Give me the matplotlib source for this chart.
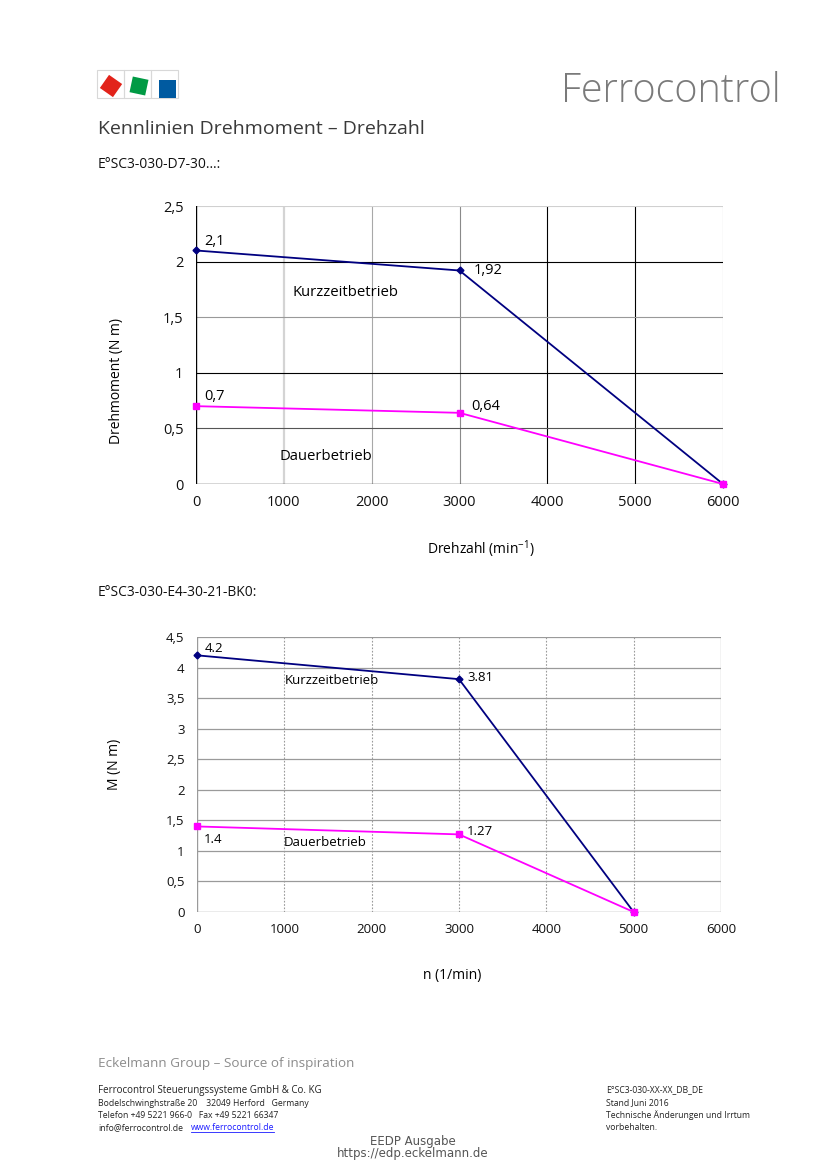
import matplotlib
matplotlib.use("Agg")
import matplotlib.pyplot as plt
from matplotlib.patches import Rectangle, Polygon
import numpy as np

plt.rcParams['font.family'] = ['Open Sans', 'DejaVu Sans']

# ---------------- data ----------------
speed1 = [0, 3000, 6000]
short1 = [2.1, 1.92, 0]
cont1 = [0.7, 0.64, 0]
short1_labels = ["2,1", "1,92"]
cont1_labels = ["0,7", "0,64"]

speed2 = [0, 3000, 5000]
short2 = [4.2, 3.81, 0]
cont2 = [1.4, 1.27, 0]
short2_labels = ["4.2", "3.81"]
cont2_labels = ["1.4", "1.27"]

xticks = [0, 1000, 2000, 3000, 4000, 5000, 6000]
xtick_labels = ["0", "1000", "2000", "3000", "4000", "5000", "6000"]
yticks1 = [0, 0.5, 1, 1.5, 2, 2.5]
ytick_labels1 = ["0", "0,5", "1", "1,5", "2", "2,5"]
yticks2 = [0, 0.5, 1, 1.5, 2, 2.5, 3, 3.5, 4, 4.5]
ytick_labels2 = ["0", "0,5", "1", "1,5", "2", "2,5", "3", "3,5", "4", "4,5"]

NAVY = "#000080"
MAG = "#FF00FF"
W, H = 827, 1169

fig = plt.figure(figsize=(8.27, 11.69), dpi=100)

# page overlay axes in pixel coordinates
page = fig.add_axes([0, 0, 1, 1])
page.set_xlim(0, W)
page.set_ylim(H, 0)
page.axis("off")

# logo
for x0 in (97, 124, 151):
    page.add_patch(Rectangle((x0, 70), 27, 28, fill=False, ec="#d8d8d8", lw=0.8))
def rot_square(cx, cy, s, ang, color):
    a = np.deg2rad(ang)
    pts = np.array([[-s/2, -s/2], [s/2, -s/2], [s/2, s/2], [-s/2, s/2]])
    R = np.array([[np.cos(a), -np.sin(a)], [np.sin(a), np.cos(a)]])
    p = pts @ R.T + [cx, cy]
    page.add_patch(Polygon(p, closed=True, color=color, lw=0))
rot_square(111, 86, 16, 35, "#e2231a")
rot_square(139, 86, 16, 12, "#009a44")
page.add_patch(Rectangle((159, 80), 17, 18, color="#005aa0", lw=0))

page.text(781, 91, "Ferrocontrol", ha="right", va="center", fontsize=28.5,
          color="#7a7a7a", fontweight="light")
page.text(98, 129, "Kennlinien Drehmoment – Drehzahl", ha="left", va="center",
          fontsize=14, color="#3a3a3a")
page.text(98, 165, "E°SC3-030-D7-30…:", ha="left", va="center", fontsize=10, color="#111111")
page.text(98, 592, "E°SC3-030-E4-30-21-BK0:", ha="left", va="center", fontsize=9.9, color="#111111")

# footer
page.text(98, 1064, "Eckelmann Group – Source of inspiration", ha="left", va="center",
          fontsize=9.7, color="#8c8c8c")
foot_left = ["Ferrocontrol Steuerungssysteme GmbH & Co. KG",
             "Bodelschwinghstraße 20    32049 Herford   Germany",
             "Telefon +49 5221 966-0   Fax +49 5221 66347",
             "info@ferrocontrol.de"]
foot_right = ["E°SC3-030-XX-XX_DB_DE", "Stand Juni 2016",
              "Technische Änderungen und Irrtum", "vorbehalten."]
ys = [1090, 1103, 1115, 1128]
for i, (l, r) in enumerate(zip(foot_left, foot_right)):
    page.text(98, ys[i], l, ha="left", va="center", fontsize=7 if i == 0 else 6.2, color="#222222")
    page.text(606, ys[i], r, ha="left", va="center", fontsize=6.2, color="#222222")
page.text(191, 1128, "www.ferrocontrol.de", ha="left", va="center", fontsize=6.2,
          color="#1a1aff")
page.plot([191, 274], [1132, 1132], color="#1a1aff", lw=0.6)
page.text(413, 1141, "EEDP Ausgabe", ha="center", va="center", fontsize=8.5,
          color="#555555", family="DejaVu Sans")
page.text(413, 1153, "https://edp.eckelmann.de", ha="center", va="center", fontsize=8.5,
          color="#555555", family="DejaVu Sans")

# ---------------- chart 1 ----------------
ax1 = fig.add_axes([196/W, 1-484/H, 527/W, 278/H])
ax1.set_xlim(0, 6000)
ax1.set_ylim(0, 2.5)
vcols = {1000: ("#d4d4d4", 1.6), 2000: ("#a8a8a8", 0.8), 3000: ("#8a8a8a", 0.8),
         4000: ("#000000", 0.8), 5000: ("#000000", 0.8), 6000: ("#b0b0b0", 0.8)}
for xv, (c, lw) in vcols.items():
    ax1.axvline(xv, color=c, lw=lw, zorder=1)
hcols = {0.5: "#555555", 1: "#000000", 1.5: "#999999", 2: "#000000", 2.5: "#d0d0d0"}
for yv, c in hcols.items():
    ax1.axhline(yv, color=c, lw=0.8, zorder=1)
for s in ax1.spines.values():
    s.set_visible(False)
ax1.axvline(0, color="#000000", lw=1.0, zorder=2)
ax1.axhline(0, color="#333333", lw=1.0, zorder=2)
ax1.plot(speed1, short1, color=NAVY, lw=1.3, marker="D", ms=3.5, zorder=5, clip_on=False)
ax1.plot(speed1, cont1, color=MAG, lw=1.3, marker="s", ms=5, zorder=5, clip_on=False)
ax1.set_xticks(xticks)
ax1.set_xticklabels(xtick_labels)
ax1.set_yticks(yticks1)
ax1.set_yticklabels(ytick_labels1)
ax1.tick_params(length=0, labelsize=10.5, pad=9, colors="#111111")
ax1.tick_params(axis="x", pad=8)
offs1_s = [(8, 9), (14, 0)]
offs1_c = [(8, 10), (12, 6)]
for i in range(2):
    ax1.annotate(short1_labels[i], (speed1[i], short1[i]), xytext=offs1_s[i],
                 textcoords="offset pixels", ha="left", va="center", fontsize=10.5)
    ax1.annotate(cont1_labels[i], (speed1[i], cont1[i]), xytext=offs1_c[i],
                 textcoords="offset pixels", ha="left", va="center", fontsize=10.5)
ax1.text(1104, 1.72, "Kurzzeitbetrieb", ha="left", va="center", fontsize=10.7)
ax1.text(945, 0.25, "Dauerbetrieb", ha="left", va="center", fontsize=10.7)
ax1.set_ylabel("Drehmoment (N m)", fontsize=10)
ax1.yaxis.set_label_coords(-0.137, 0.37)
ax1.set_xlabel("Drehzahl (min$^{\\mathregular{-1}}$)", fontsize=10)
ax1.xaxis.set_label_coords(0.541, -0.195)

# ---------------- chart 2 ----------------
ax2 = fig.add_axes([197/W, 1-912/H, 524/W, 275/H])
ax2.set_xlim(0, 6000)
ax2.set_ylim(0, 4.5)
for xv in xticks[1:-1]:
    ax2.axvline(xv, color="#9a9a9a", lw=0.8, ls=(0, (1.5, 1.5)), zorder=1)
ax2.axvline(6000, color="#a0a0a0", lw=0.9, zorder=1)
for yv in yticks2[1:]:
    ax2.axhline(yv, color="#9a9a9a", lw=0.9, zorder=1)
for s in ax2.spines.values():
    s.set_visible(False)
ax2.axvline(0, color="#9a9a9a", lw=1.0, zorder=2)
ax2.axhline(0, color="#9a9a9a", lw=1.0, zorder=2)
ax2.plot(speed2, short2, color=NAVY, lw=1.3, marker="D", ms=3.5, zorder=5, clip_on=False)
ax2.plot(speed2, cont2, color=MAG, lw=1.3, marker="s", ms=5, zorder=5, clip_on=False)
ax2.set_xticks(xticks)
ax2.set_xticklabels(xtick_labels)
ax2.set_yticks(yticks2)
ax2.set_yticklabels(ytick_labels2)
ax2.tick_params(length=0, labelsize=9.5, pad=9, colors="#111111")
ax2.tick_params(axis="x", pad=8)
offs2_s = [(8, 7), (8, 2)]
offs2_c = [(7, -13), (8, 3)]
for i in range(2):
    ax2.annotate(short2_labels[i], (speed2[i], short2[i]), xytext=offs2_s[i],
                 textcoords="offset pixels", ha="left", va="center", fontsize=9.5)
    ax2.annotate(cont2_labels[i], (speed2[i], cont2[i]), xytext=offs2_c[i],
                 textcoords="offset pixels", ha="left", va="center", fontsize=9.5)
ax2.text(1008, 3.78, "Kurzzeitbetrieb", ha="left", va="center", fontsize=9.5)
ax2.text(996, 1.13, "Dauerbetrieb", ha="left", va="center", fontsize=9.5)
ax2.set_ylabel("M (N m)", fontsize=10)
ax2.yaxis.set_label_coords(-0.143, 0.535)
ax2.set_xlabel("n (1/min)", fontsize=10)
ax2.xaxis.set_label_coords(0.487, -0.205)

fig.savefig("out.png", dpi=100)
